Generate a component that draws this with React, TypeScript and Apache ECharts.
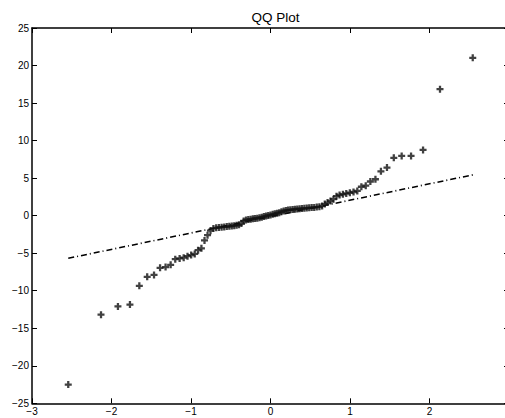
import React, { useEffect, useRef } from "react";
import * as echarts from "echarts";

// Theoretical standard normal quantiles (n = 91)
const xQuantiles = [
  -2.544, -2.132, -1.919, -1.768, -1.650, -1.551, -1.465, -1.389, -1.320, -1.256,
  -1.198, -1.143, -1.092, -1.044, -0.998, -0.953, -0.911, -0.869, -0.830, -0.792,
  -0.755, -0.718, -0.683, -0.649, -0.615, -0.582, -0.550, -0.518, -0.487, -0.456,
  -0.426, -0.396, -0.366, -0.337, -0.308, -0.279, -0.250, -0.222, -0.194, -0.166,
  -0.138, -0.110, -0.083, -0.055, -0.028, 0.000, 0.028, 0.055, 0.083, 0.110,
  0.138, 0.166, 0.194, 0.222, 0.250, 0.279, 0.308, 0.337, 0.366, 0.396,
  0.426, 0.456, 0.487, 0.518, 0.550, 0.582, 0.615, 0.649, 0.683, 0.718,
  0.755, 0.792, 0.830, 0.869, 0.911, 0.953, 0.998, 1.044, 1.092, 1.143,
  1.198, 1.256, 1.320, 1.389, 1.465, 1.551, 1.650, 1.768, 1.919, 2.132,
  2.544,
];

// Sample quantiles (y values)
const yQuantiles = [
  -22.5, -13.2, -12.1, -11.85, -9.35, -8.15, -7.9, -6.95, -6.85, -6.55,
  -5.8, -5.7, -5.6, -5.4, -5.25, -5.1, -4.6, -4.35, -3.3, -2.6,
  -2.0, -1.7, -1.62, -1.58, -1.53, -1.5, -1.46, -1.42, -1.38, -1.33,
  -1.28, -1.22, -1.05, -0.7, -0.58, -0.52, -0.47, -0.42, -0.38, -0.33,
  -0.27, -0.2, -0.12, -0.05, 0.02, 0.1, 0.17, 0.25, 0.32, 0.4,
  0.52, 0.62, 0.7, 0.74, 0.78, 0.82, 0.86, 0.89, 0.92, 0.95,
  0.98, 1.01, 1.04, 1.07, 1.1, 1.14, 1.18, 1.3, 1.55, 1.75,
  1.95, 2.2, 2.6, 2.75, 2.85, 2.95, 3.05, 3.15, 3.3, 3.85,
  4.0, 4.55, 4.85, 5.9, 6.4, 7.7, 7.95, 7.95, 8.75, 16.85,
  21.03,
];

// Reference line endpoints (dash-dot)
const refLineX = [-2.544, 2.544];
const refLineY = [-5.68, 5.43];

const xTicks = [-3, -2, -1, 0, 1, 2, 3];
const yTicks = [-25, -20, -15, -10, -5, 0, 5, 10, 15, 20, 25];

const title = "QQ Plot";

const fmt = (v: number) => (v < 0 ? "\u2212" + Math.abs(v) : String(v));

const PLUS = "path://M0,2.7H2.7V0H5.3V2.7H8V5.3H5.3V8H2.7V5.3H0Z";

export default function App() {
  const ref = useRef<HTMLDivElement>(null);
  useEffect(() => {
    document.body.style.margin = "0";
    document.body.style.overflow = "hidden";
    const chart = echarts.init(ref.current!, null, { renderer: "svg" });
    const font = "'Liberation Sans', Arial, Helvetica, sans-serif";
    const axisCommon = {
      type: "value" as const,
      axisLine: { show: true, onZero: false, lineStyle: { color: "#000", width: 1.5 } },
      axisTick: { show: true, inside: true, length: 5, lineStyle: { color: "#000", width: 1 } },
      splitLine: { show: false },
    };
    chart.setOption({
      animation: false,
      backgroundColor: "#fff",
      title: {
        text: title,
        left: 270.5,
        textAlign: "center",
        top: 5,
        textStyle: { fontFamily: font, fontSize: 13.5, fontWeight: "normal", color: "#000" },
      },
      grid: { left: 32, right: 4, top: 28, bottom: 14.7, containLabel: false },
      xAxis: [
        {
          ...axisCommon,
          position: "bottom",
          min: xTicks[0],
          max: xTicks[xTicks.length - 1],
          interval: 1,
          axisLabel: {
            show: true,
            margin: 3,
            fontFamily: font,
            fontSize: 10,
            color: "#000",
            showMaxLabel: false,
            formatter: fmt,
          },
        },
        {
          ...axisCommon,
          position: "top",
          min: xTicks[0],
          max: xTicks[xTicks.length - 1],
          interval: 1,
          axisLabel: { show: false },
        },
      ],
      yAxis: [
        {
          ...axisCommon,
          position: "left",
          min: yTicks[0],
          max: yTicks[yTicks.length - 1],
          interval: 5,
          axisLabel: { show: true, margin: 3, fontFamily: font, fontSize: 10, color: "#000", formatter: fmt },
        },
        {
          ...axisCommon,
          position: "right",
          min: yTicks[0],
          max: yTicks[yTicks.length - 1],
          interval: 5,
          axisLabel: { show: false },
        },
      ],
      series: [
        {
          type: "line",
          data: refLineX.map((x, i) => [x, refLineY[i]]),
          showSymbol: false,
          symbol: "none",
          lineStyle: { color: "#000", width: 1.6, type: [6, 3, 1, 3] },
          z: 2,
        },
        {
          type: "scatter",
          data: xQuantiles.map((x, i) => [x, yQuantiles[i]]),
          symbol: PLUS,
          symbolSize: 7,
          itemStyle: { color: "#111" },
          z: 3,
        },
      ],
    });
    return () => chart.dispose();
  }, []);
  return <div ref={ref} style={{ width: 513, height: 418 }} />;
}
